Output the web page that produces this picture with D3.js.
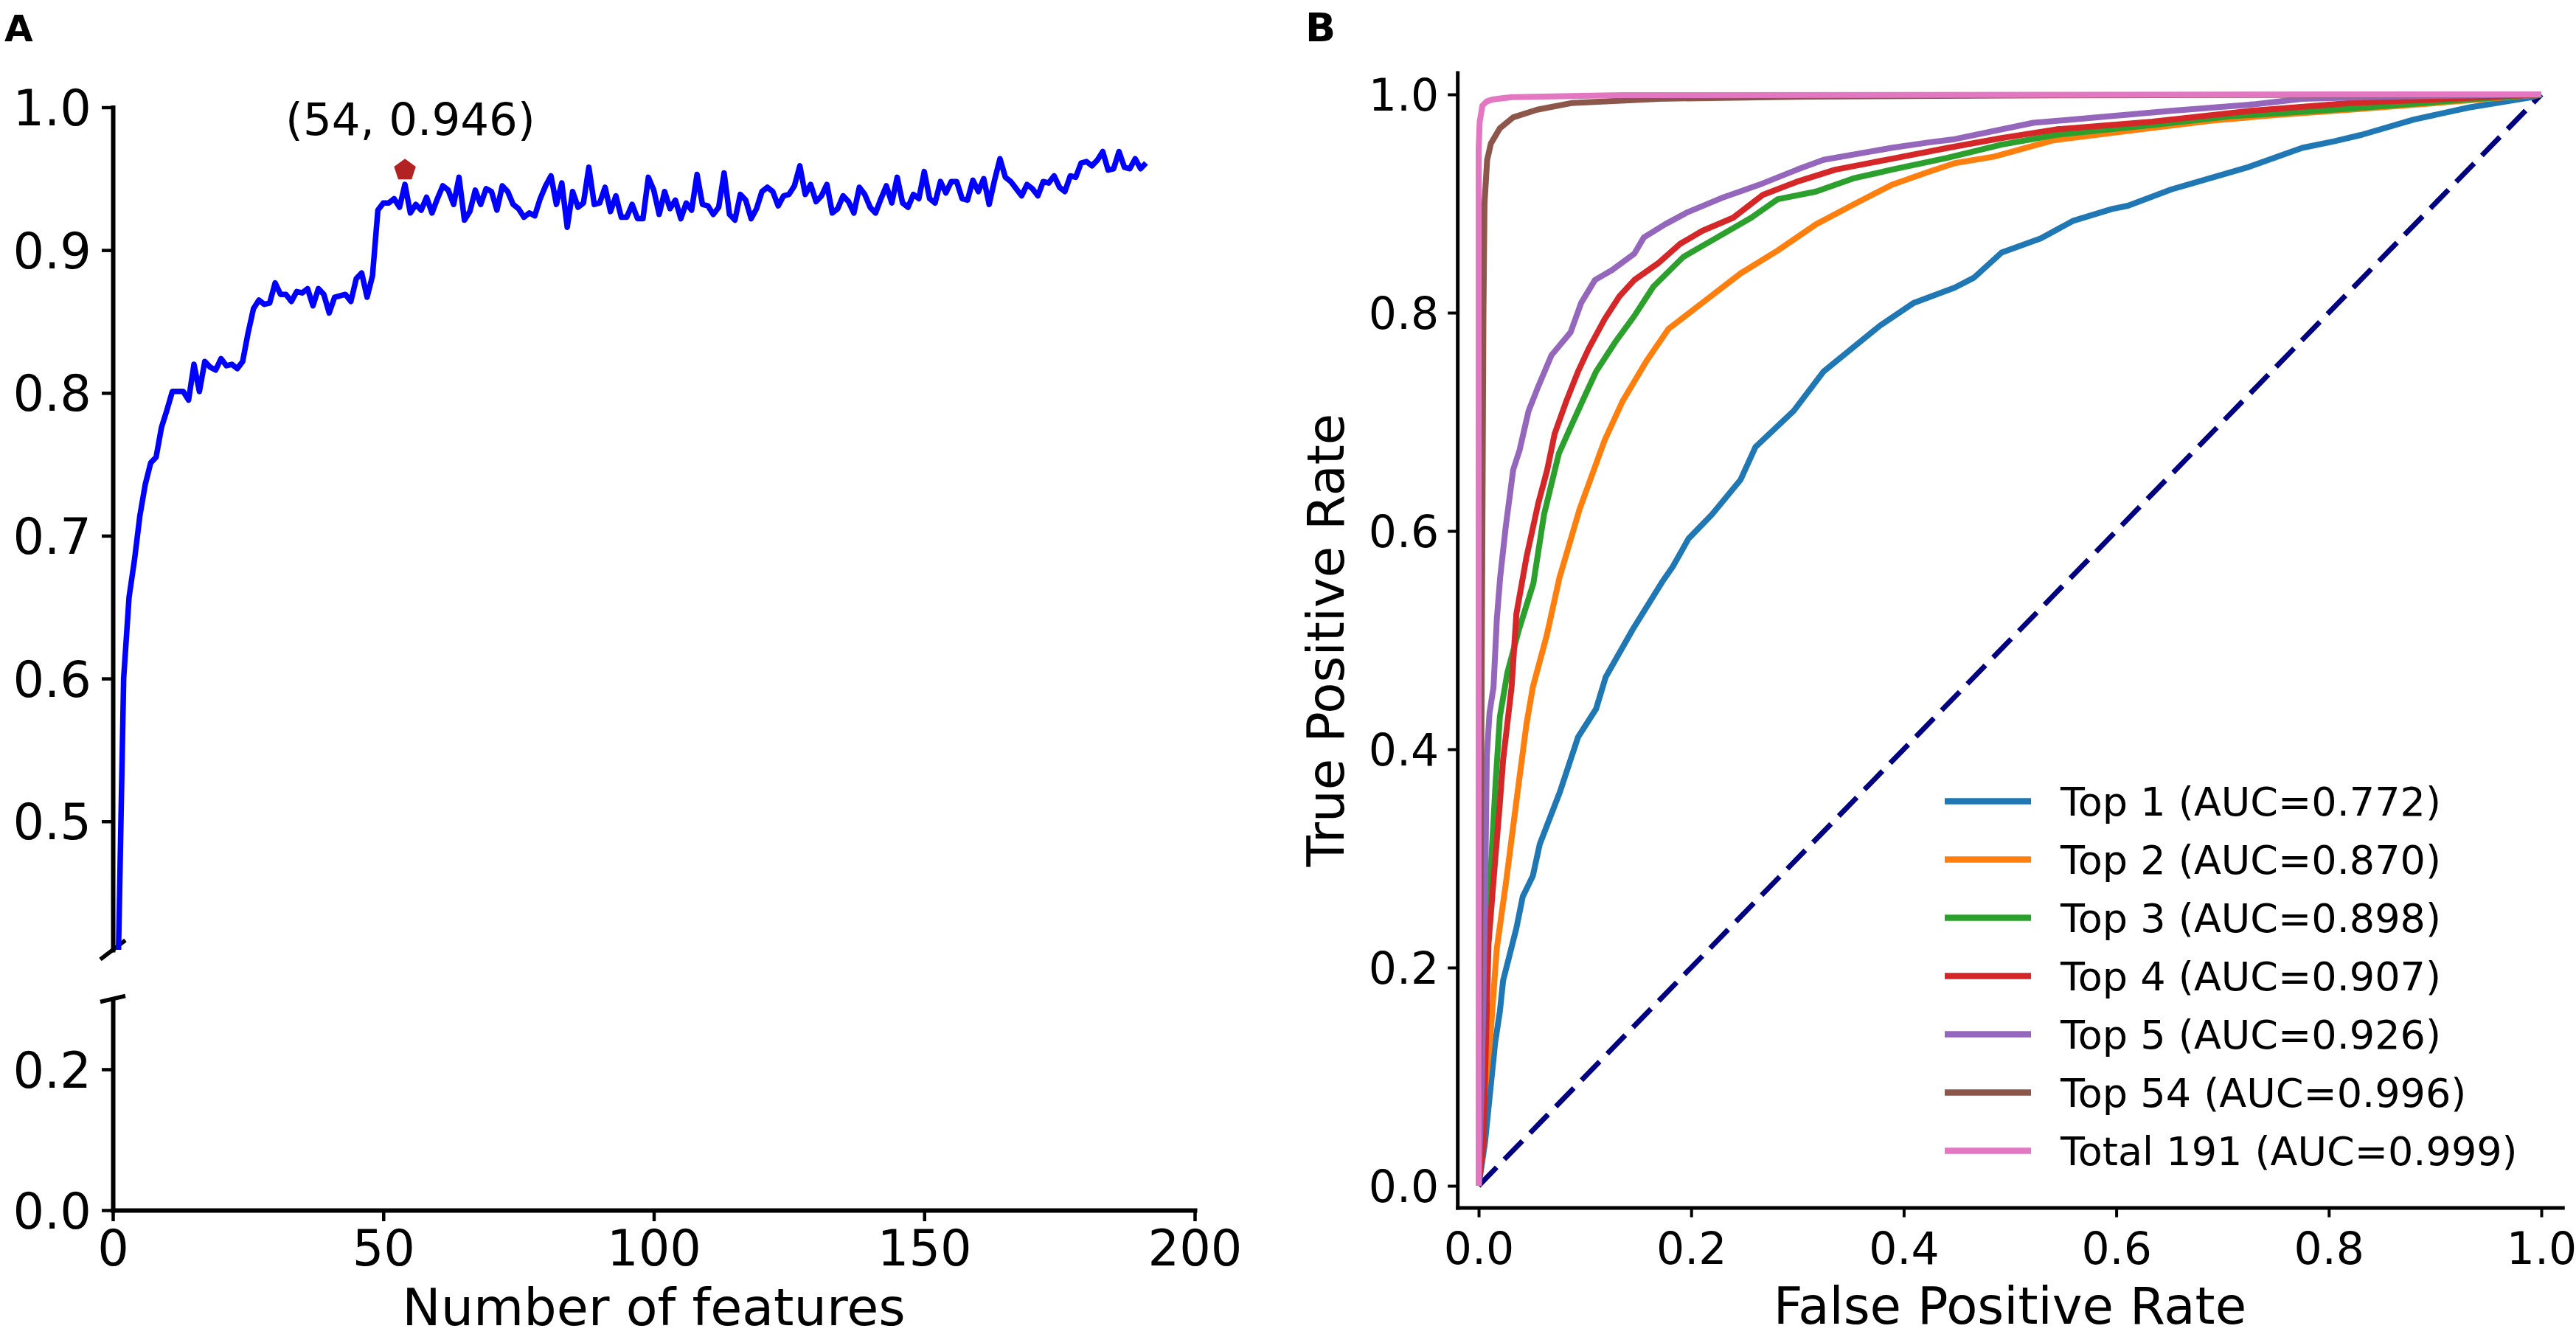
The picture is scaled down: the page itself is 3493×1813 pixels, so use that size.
<!DOCTYPE html>
<html lang="en">
<head>
	<meta charset="utf-8">
	<title>Feature selection accuracy and ROC curves</title>
	<style>
		body { margin: 0; background: #fff; }
		svg { display: block; font-family: "DejaVu Sans", sans-serif; }
	</style>
</head>
<body>

<script src="https://d3js.org/d3.v7.min.js" charset="utf-8"></script>
<script>
	// ---- panel A : accuracy vs number of features (1..191) ----
	var accuracy = [
		0.400, 0.600, 0.657, 0.683, 0.714, 0.736, 0.751, 0.755, 0.776, 0.788,
		0.801, 0.801, 0.801, 0.795, 0.820, 0.801, 0.822, 0.818, 0.816, 0.824,
		0.819, 0.820, 0.817, 0.822, 0.842, 0.859, 0.865, 0.862, 0.863, 0.877,
		0.869, 0.869, 0.864, 0.871, 0.870, 0.873, 0.861, 0.873, 0.869, 0.856,
		0.867, 0.868, 0.869, 0.864, 0.880, 0.884, 0.867, 0.882, 0.928, 0.933,
		0.933, 0.936, 0.930, 0.946, 0.926, 0.932, 0.928, 0.937, 0.926, 0.936,
		0.945, 0.942, 0.932, 0.951, 0.921, 0.927, 0.942, 0.932, 0.943, 0.941,
		0.928, 0.945, 0.941, 0.932, 0.929, 0.923, 0.926, 0.924, 0.936, 0.945,
		0.952, 0.932, 0.947, 0.916, 0.941, 0.930, 0.933, 0.958, 0.932, 0.933,
		0.944, 0.927, 0.938, 0.923, 0.923, 0.932, 0.922, 0.922, 0.951, 0.942,
		0.925, 0.941, 0.929, 0.935, 0.922, 0.933, 0.928, 0.953, 0.932, 0.931,
		0.925, 0.930, 0.954, 0.925, 0.921, 0.939, 0.935, 0.922, 0.929, 0.941,
		0.944, 0.941, 0.931, 0.938, 0.939, 0.945, 0.959, 0.939, 0.946, 0.934,
		0.938, 0.946, 0.926, 0.929, 0.938, 0.934, 0.926, 0.944, 0.939, 0.930,
		0.926, 0.936, 0.945, 0.933, 0.951, 0.933, 0.930, 0.939, 0.936, 0.955,
		0.936, 0.933, 0.948, 0.940, 0.948, 0.948, 0.936, 0.935, 0.949, 0.941,
		0.950, 0.932, 0.949, 0.964, 0.951, 0.948, 0.943, 0.938, 0.946, 0.943,
		0.938, 0.948, 0.947, 0.952, 0.944, 0.941, 0.952, 0.951, 0.961, 0.962,
		0.959, 0.963, 0.969, 0.956, 0.957, 0.969, 0.958, 0.957, 0.964, 0.957,
		0.961
	];
	var bestN = 54;
	var bestAcc = 0.946;
	var featureTicks = [0, 50, 100, 150, 200];
	var upperTicks = [0.5, 0.6, 0.7, 0.8, 0.9, 1.0];
	var lowerTicks = [0.0, 0.2];

	// ---- panel B : ROC curves, [fpr, tpr] pairs ----
	var rocTop1 = [[0,0],[0.006,0.040],[0.011,0.088],[0.0155,0.131],[0.020,0.160],[0.023,0.188],[0.0355,0.236],[0.0415,0.265],[0.051,0.284],[0.0575,0.313],[0.0765,0.361],[0.0935,0.411],[0.1105,0.437],[0.1195,0.466],[0.1445,0.509],[0.1725,0.553],[0.1825,0.567],[0.1975,0.593],[0.2195,0.615],[0.2465,0.647],[0.2605,0.677],[0.2965,0.710],[0.3245,0.746],[0.3775,0.788],[0.4095,0.809],[0.448,0.823],[0.466,0.832],[0.492,0.855],[0.529,0.868],[0.559,0.884],[0.596,0.895],[0.611,0.898],[0.652,0.913],[0.723,0.933],[0.775,0.951],[0.805,0.957],[0.831,0.963],[0.880,0.977],[0.932,0.988],[0.991,0.9975],[1,1]];
	var rocTop2 = [[0,0],[0.006,0.088],[0.011,0.136],[0.017,0.217],[0.026,0.280],[0.036,0.356],[0.045,0.423],[0.051,0.457],[0.064,0.504],[0.076,0.557],[0.095,0.620],[0.1185,0.683],[0.1355,0.719],[0.1575,0.755],[0.1785,0.785],[0.2105,0.809],[0.2465,0.836],[0.2815,0.857],[0.3175,0.881],[0.3525,0.899],[0.3885,0.917],[0.4235,0.929],[0.448,0.937],[0.485,0.943],[0.541,0.958],[0.615,0.967],[0.690,0.976],[0.750,0.981],[0.820,0.986],[0.913,0.993],[1,1]];
	var rocTop3 = [[0,0],[0.0045,0.06],[0.0065,0.15],[0.0085,0.22],[0.012,0.30],[0.016,0.37],[0.020,0.43],[0.027,0.47],[0.038,0.51],[0.0515,0.552],[0.0615,0.615],[0.0755,0.671],[0.0865,0.695],[0.1005,0.725],[0.1105,0.746],[0.1285,0.773],[0.1465,0.797],[0.1645,0.824],[0.1925,0.851],[0.2245,0.869],[0.2565,0.887],[0.2815,0.904],[0.3175,0.911],[0.3525,0.923],[0.3885,0.931],[0.4415,0.942],[0.492,0.954],[0.544,0.963],[0.634,0.972],[0.708,0.980],[0.820,0.987],[0.913,0.994],[1,1]];
	var rocTop4 = [[0,0],[0.0045,0.04],[0.007,0.136],[0.0093,0.222],[0.014,0.280],[0.020,0.351],[0.023,0.390],[0.031,0.457],[0.0355,0.524],[0.045,0.576],[0.056,0.625],[0.0645,0.656],[0.0715,0.689],[0.0825,0.719],[0.0935,0.746],[0.1035,0.767],[0.1185,0.794],[0.1325,0.815],[0.1465,0.830],[0.1685,0.845],[0.1895,0.863],[0.2105,0.875],[0.2395,0.887],[0.2675,0.908],[0.2995,0.920],[0.3355,0.931],[0.3885,0.941],[0.4415,0.951],[0.492,0.960],[0.544,0.968],[0.634,0.975],[0.727,0.985],[0.820,0.992],[0.913,0.996],[1,1]];
	var rocTop5 = [[0,0],[0.003,0.1],[0.005,0.2],[0.0065,0.3],[0.0077,0.394],[0.0102,0.433],[0.014,0.457],[0.0171,0.519],[0.0202,0.557],[0.0255,0.604],[0.0325,0.656],[0.0385,0.674],[0.047,0.710],[0.0555,0.731],[0.0685,0.761],[0.0865,0.782],[0.0965,0.809],[0.1095,0.830],[0.1255,0.839],[0.1465,0.854],[0.1555,0.869],[0.1755,0.881],[0.1965,0.892],[0.2285,0.905],[0.2635,0.917],[0.2995,0.931],[0.3245,0.940],[0.3885,0.951],[0.4235,0.956],[0.448,0.959],[0.522,0.974],[0.571,0.978],[0.652,0.985],[0.731,0.991],[0.775,0.996],[0.857,0.998],[1,1]];
	var rocTop54 = [[0,0],[0.002,0.3],[0.0035,0.6],[0.0045,0.8],[0.0055,0.9],[0.008,0.94],[0.0115,0.955],[0.020,0.969],[0.0325,0.979],[0.055,0.986],[0.087,0.992],[0.17,0.996],[0.31,0.998],[0.5,0.999],[1,1]];
	var rocTotal = [[0,0],[0,0.95],[0.001,0.975],[0.0035,0.9897],[0.0075,0.9935],[0.0127,0.9953],[0.031,0.9975],[0.135,0.9993],[1,1]];

	var rocNames = ["Top 1", "Top 2", "Top 3", "Top 4", "Top 5", "Top 54", "Total 191"];
	var rocAuc = [0.772, 0.870, 0.898, 0.907, 0.926, 0.996, 0.999];
	var rocColors = ["#1f77b4", "#ff7f0e", "#2ca02c", "#d62728", "#9467bd", "#8c564b", "#e377c2"];
	var rocCurves = [rocTop1, rocTop2, rocTop3, rocTop4, rocTop5, rocTop54, rocTotal];
	var rateTicks = [0, 0.2, 0.4, 0.6, 0.8, 1.0];

	var W = 3493, H = 1813;
	var font = "DejaVu Sans";
	var fmt = d3.format(".1f");

	var svg = d3.select("body").append("svg").attr("width", W).attr("height", H);

	function styleAxis(g, spineW, tickW, fs) {
		g.attr("font-family", font).attr("font-size", fs);
		g.select(".domain").attr("stroke", "#000").attr("stroke-width", spineW).attr("stroke-linecap", "square");
		g.selectAll(".tick line").attr("stroke", "#000").attr("stroke-width", tickW);
		g.selectAll(".tick text").attr("fill", "#000");
	}

	// ================= panel A =================
	var x = d3.scaleLinear().domain([0, 200]).range([153, 1620]);
	var yUp = d3.scaleLinear().domain([0.41, 1.0]).range([1288, 145.5]);
	var yLo = d3.scaleLinear().domain([0, 0.3]).range([1641, 1354.5]);

	var gUp = svg.append("g").attr("transform", "translate(" + x(0) + ",0)")
		.call(d3.axisLeft(yUp).tickValues(upperTicks).tickFormat(fmt).tickSize(15).tickPadding(14).tickSizeOuter(0));
	styleAxis(gUp, 6, 4.5, 67);
	gUp.selectAll(".tick text").attr("dy", "0.36em");

	var gLo = svg.append("g").attr("transform", "translate(" + x(0) + ",0)")
		.call(d3.axisLeft(yLo).tickValues(lowerTicks).tickFormat(fmt).tickSize(15).tickPadding(14).tickSizeOuter(0));
	styleAxis(gLo, 6, 4.5, 67);
	gLo.selectAll(".tick text").attr("dy", "0.36em");

	var gX = svg.append("g").attr("transform", "translate(0," + yLo(0) + ")")
		.call(d3.axisBottom(x).tickValues(featureTicks).tickSize(15).tickPadding(12).tickSizeOuter(0));
	styleAxis(gX, 6, 4.5, 67);

	// broken-axis marks
	var brk = svg.append("g").attr("stroke", "#000").attr("stroke-width", 5.5);
	brk.append("line")
		.attr("x1", x(0) - 17).attr("y1", yUp(0.41) + 13)
		.attr("x2", x(0) + 17).attr("y2", yUp(0.41) - 13);
	brk.append("line")
		.attr("x1", x(0) - 17).attr("y1", yLo(0.3) + 4)
		.attr("x2", x(0) + 17).attr("y2", yLo(0.3) - 4);

	svg.append("clipPath").attr("id", "clipUp")
		.append("rect")
		.attr("x", x(0)).attr("y", yUp(1.0))
		.attr("width", x(200) - x(0)).attr("height", yUp(0.41) - yUp(1.0));

	var accLine = d3.line()
		.x(function(d, i){ return x(i + 1); })
		.y(function(d){ return yUp(d); });

	svg.append("path")
		.datum(accuracy)
		.attr("clip-path", "url(#clipUp)")
		.attr("fill", "none")
		.attr("stroke", "#0000ff")
		.attr("stroke-width", 7.5)
		.attr("stroke-linejoin", "round")
		.attr("d", accLine);

	// pentagon marker just above the best point
	var mx = x(bestN), my = yUp(bestAcc + 0.01), mr = 15.5;
	var penta = d3.range(5).map(function(k){
		var a = -Math.PI / 2 + k * 2 * Math.PI / 5;
		return [mx + mr * Math.cos(a), my + mr * Math.sin(a)];
	});
	svg.append("path")
		.attr("d", "M" + penta.join("L") + "Z")
		.attr("fill", "#b22222");

	svg.append("text")
		.attr("x", x(bestN) - 162)
		.attr("y", yUp(bestAcc) - 67)
		.attr("font-family", font).attr("font-size", 61)
		.text("(" + bestN + ", " + bestAcc.toFixed(3) + ")");

	svg.append("text")
		.attr("x", (x(0) + x(200)) / 2).attr("y", 1796.5)
		.attr("text-anchor", "middle")
		.attr("font-family", font).attr("font-size", 70)
		.text("Number of features");

	// ================= panel B =================
	var xR = d3.scaleLinear().domain([-0.02, 1.02]).range([1976.2, 3474.8]);
	var yR = d3.scaleLinear().domain([-0.02, 1.02]).range([1637.6, 98.4]);

	var gRy = svg.append("g").attr("transform", "translate(" + xR(-0.02) + ",0)")
		.call(d3.axisLeft(yR).tickValues(rateTicks).tickFormat(fmt).tickSize(13).tickPadding(12).tickSizeOuter(0));
	styleAxis(gRy, 5, 4, 60);
	gRy.selectAll(".tick text").attr("dy", "0.36em");

	var gRx = svg.append("g").attr("transform", "translate(0," + yR(-0.02) + ")")
		.call(d3.axisBottom(xR).tickValues(rateTicks).tickFormat(fmt).tickSize(13).tickPadding(21).tickSizeOuter(0));
	styleAxis(gRx, 5, 4, 60);

	// chance diagonal
	svg.append("line")
		.attr("x1", xR(0)).attr("y1", yR(0))
		.attr("x2", xR(1)).attr("y2", yR(1))
		.attr("stroke", "#000080")
		.attr("stroke-width", 7)
		.attr("stroke-dasharray", "35,15");

	var rocLine = d3.line()
		.x(function(d){ return xR(d[0]); })
		.y(function(d){ return yR(d[1]); });

	svg.selectAll("path.roc")
		.data(rocCurves)
		.enter()
		.append("path")
		.attr("class", "roc")
		.attr("fill", "none")
		.attr("stroke", function(d, i){ return rocColors[i]; })
		.attr("stroke-width", 8)
		.attr("stroke-linejoin", "round")
		.attr("d", rocLine);

	// legend
	var leg = svg.append("g").attr("font-family", font).attr("font-size", 54);
	rocNames.forEach(function(name, i){
		var cy = 1086.6 + i * 79;
		leg.append("line")
			.attr("x1", 2637).attr("x2", 2754)
			.attr("y1", cy).attr("y2", cy)
			.attr("stroke", rocColors[i])
			.attr("stroke-width", 8.5);
		leg.append("text")
			.attr("x", 2794).attr("y", cy + 19.7)
			.text(name + " (AUC=" + rocAuc[i].toFixed(3) + ")");
	});

	svg.append("text")
		.attr("x", (xR(0) + xR(1)) / 2).attr("y", 1795)
		.attr("text-anchor", "middle")
		.attr("font-family", font).attr("font-size", 69)
		.text("False Positive Rate");

	svg.append("text")
		.attr("transform", "translate(1822," + yR(0.5) + ") rotate(-90)")
		.attr("text-anchor", "middle")
		.attr("font-family", font).attr("font-size", 69)
		.text("True Positive Rate");

	// panel letters
	svg.append("text").attr("x", 6).attr("y", 56)
		.attr("font-family", font).attr("font-size", 50).attr("font-weight", "bold")
		.text("A");
	svg.append("text").attr("x", 1770).attr("y", 56)
		.attr("font-family", font).attr("font-size", 54).attr("font-weight", "bold")
		.text("B");
</script>
</body>
</html>
